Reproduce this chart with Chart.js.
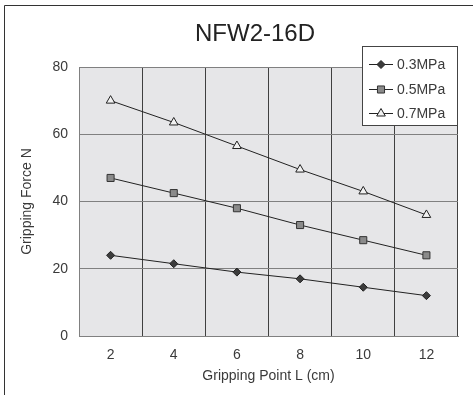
<!DOCTYPE html>
<html>
<head>
<meta charset="utf-8">
<script src="https://cdn.jsdelivr.net/npm/chart.js@4/dist/chart.umd.min.js"></script>
<style>
  html, body { margin: 0; padding: 0; background: #fff; }
  #wrap { width: 473px; height: 395px; }
</style>
</head>
<body>
<div id="wrap"><canvas id="chart" width="473" height="395"></canvas></div>
<script>
// ─── Data ─────────────────────────────────────────────────────────────────────
const chartTitle = 'NFW2-16D';
const gripPoints = ['2', '4', '6', '8', '10', '12'];
const force03 = [24, 21.5, 19, 17, 14.5, 12];
const force05 = [47, 42.5, 38, 33, 28.5, 24];
const force07 = [70, 63.5, 56.5, 49.5, 43, 36];
const seriesLabels = ['0.3MPa', '0.5MPa', '0.7MPa'];

const FONT = "'Liberation Sans', Arial, sans-serif";
const TEXT = '#3a3a3a';

// ─── Background, frame & title ────────────────────────────────────────────────
const framePlugin = {
  id: 'frame',
  beforeDraw(chart) {
    const { ctx, chartArea: a } = chart;
    ctx.save();
    ctx.fillStyle = '#e6e6e8';
    ctx.fillRect(a.left, a.top, a.right - a.left, a.bottom - a.top);
    // outer frame (top + left visible)
    ctx.strokeStyle = '#333';
    ctx.lineWidth = 1;
    ctx.beginPath();
    ctx.moveTo(4.5, 395); ctx.lineTo(4.5, 5.5); ctx.lineTo(473, 5.5);
    ctx.stroke();
    ctx.restore();
  },
  afterDraw(chart) {
    const { ctx } = chart;
    ctx.save();
    ctx.fillStyle = '#222';
    ctx.font = `24px ${FONT}`;
    ctx.textAlign = 'center';
    ctx.textBaseline = 'middle';
    ctx.fillText(chartTitle, 255, 34);
    ctx.restore();
  }
};

// ─── Boxed legend overlapping the plot ────────────────────────────────────────
const legendBoxPlugin = {
  id: 'legendBox',
  afterDraw(chart) {
    const { ctx } = chart;
    const box = { x: 362.5, y: 46.5, w: 95, h: 79 };
    ctx.save();
    ctx.fillStyle = '#fff';
    ctx.fillRect(box.x, box.y, box.w, box.h);
    ctx.strokeStyle = '#444';
    ctx.lineWidth = 1;
    ctx.strokeRect(box.x, box.y, box.w, box.h);
    const rows = [64, 89, 113];
    chart.data.datasets.forEach((ds, i) => {
      const y = rows[i];
      ctx.strokeStyle = ds.borderColor;
      ctx.lineWidth = 1;
      ctx.beginPath();
      ctx.moveTo(369, y + 0.5); ctx.lineTo(393, y + 0.5);
      ctx.stroke();
      ctx.fillStyle = ds.pointBackgroundColor;
      ctx.strokeStyle = ds.pointBorderColor;
      Chart.helpers.drawPoint(ctx, {
        pointStyle: ds.pointStyle,
        radius: ds.pointRadius,
        borderWidth: 1,
        rotation: 0
      }, 381, y + 0.5);
      ctx.fillStyle = TEXT;
      ctx.font = `14px ${FONT}`;
      ctx.textAlign = 'left';
      ctx.textBaseline = 'middle';
      ctx.fillText(ds.label, 397, y + 1);
    });
    ctx.restore();
  }
};

function series(label, data, style, radius, bg, border) {
  return {
    label, data,
    borderColor: '#222', borderWidth: 1, tension: 0,
    pointStyle: style, pointRadius: radius, pointHoverRadius: radius,
    pointBackgroundColor: bg, pointBorderColor: border, pointBorderWidth: 1
  };
}

new Chart(document.getElementById('chart'), {
  type: 'line',
  data: {
    labels: gripPoints,
    datasets: [
      series(seriesLabels[0], force03, 'rectRot', 4, '#3c3c3c', '#222'),
      series(seriesLabels[1], force05, 'rect', 5, '#8a8a8a', '#333'),
      series(seriesLabels[2], force07, 'triangle', 5, '#f2f2f2', '#222'),
    ]
  },
  options: {
    responsive: false, animation: false,
    layout: { padding: { top: 67, right: 15, bottom: 0, left: 0 } },
    plugins: { legend: { display: false }, title: { display: false }, tooltip: { enabled: false } },
    scales: {
      x: {
        offset: true,
        grid: { offset: true, color: '#404040', drawTicks: false },
        border: { color: '#808080' },
        ticks: { color: TEXT, font: { family: FONT, size: 14 }, padding: 11 },
        title: { display: true, text: 'Gripping Point L (cm)', color: TEXT,
                 font: { family: FONT, size: 14 }, padding: { top: 4, bottom: 10 } },
        afterFit: s => { s.height = 59; }
      },
      y: {
        min: 0, max: 80,
        grid: { color: '#808080', drawTicks: false },
        border: { color: '#808080' },
        ticks: { stepSize: 20, color: TEXT, font: { family: FONT, size: 14 }, padding: 11 },
        title: { display: true, text: 'Gripping Force N', color: TEXT,
                 font: { family: FONT, size: 14 }, padding: { top: 19, bottom: 0 } },
        afterFit: s => { s.height; s.width = 79; }
      }
    }
  },
  plugins: [framePlugin, legendBoxPlugin]
});
</script>
</body>
</html>
